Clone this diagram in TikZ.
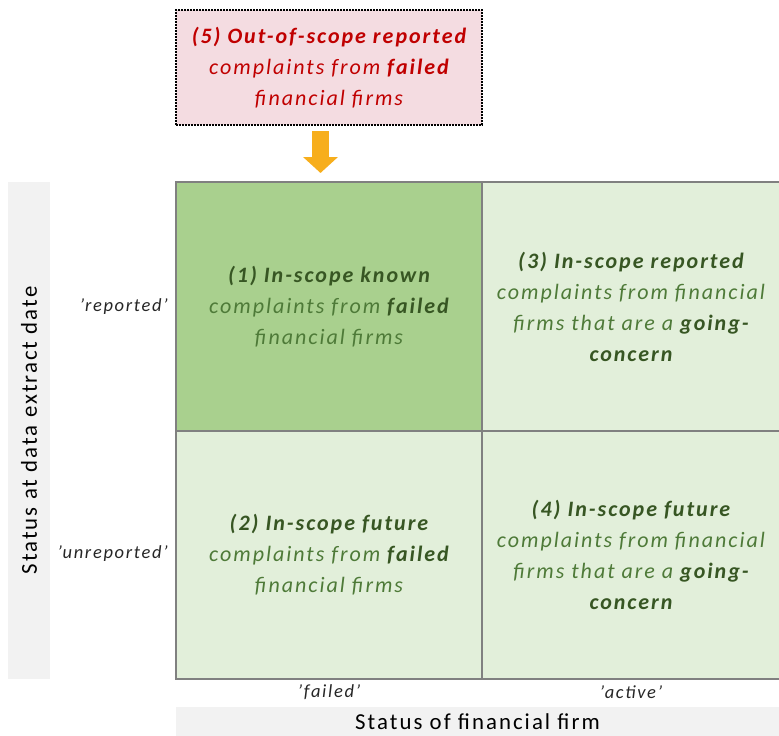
\documentclass[tikz,border=0pt]{standalone}
\usepackage{fontspec}
\setmainfont{Carlito}[LetterSpace=9]
\usepackage{tikz}
\usetikzlibrary{arrows.meta}

\definecolor{cellgreen}{HTML}{A9D08E}
\definecolor{celllight}{HTML}{E2EFDA}
\definecolor{gridgray}{HTML}{808080}
\definecolor{bargray}{HTML}{F2F2F2}
\definecolor{textdark}{HTML}{375623}
\definecolor{textmid}{HTML}{4E7A38}
\definecolor{oospink}{HTML}{F4DCE1}
\definecolor{oosred}{HTML}{C00000}
\definecolor{arroworange}{HTML}{F7AE1C}

\newcommand{\emcell}[1]{\textcolor{textdark}{\bfseries #1}}

\tikzset{
    cell/.style={draw=gridgray, line width=1.5pt, inner sep=0pt, align=center,
        text=textmid, font=\fontsize{22}{31}\selectfont\itshape},
    axisbar/.style={fill=bargray, inner sep=0pt, font=\fontsize{22.8}{26}\selectfont},
    tick/.style={inner sep=0pt, text=black!85, font=\fontsize{18.5}{22}\selectfont\itshape},
}

\begin{document}
\begin{tikzpicture}[x=1pt, y=-1pt]
    \useasboundingbox (0,0) rectangle (779,736);

    % out-of-scope box and arrow
    \node[draw=black, dash pattern=on 2pt off 1pt, line width=1.2pt, fill=oospink, text=oosred,
        minimum width=306pt, minimum height=115pt, inner sep=0pt, align=center,
        font=\fontsize{22}{31}\selectfont\itshape] (oos) at (329,67.5)
        {\textbf{(5) Out-of-scope reported}\\ complaints from \textbf{failed}\\ financial firms};
    \coordinate (arrtop) at (320.5,131);
    \coordinate (arrtip) at (320.5,173);
    \draw[arroworange, line width=17pt, -{Triangle[width=34pt, length=16pt]}] (arrtop) -- (arrtip);

    % the four cells
    \node[cell, fill=cellgreen, minimum width=306pt, minimum height=249pt] (known) at (329,306.5)
        {\emcell{(1) In-scope known}\\ complaints from \emcell{failed}\\ financial firms};
    \node[cell, fill=celllight, minimum width=298pt, minimum height=249pt] (repgc) at (631,306.5)
        {\emcell{(3) In-scope reported}\\ complaints from financial\\ firms that are a \emcell{going-}\\ \emcell{concern}};
    \node[cell, fill=celllight, minimum width=306pt, minimum height=248pt] (futfail) at (329,555)
        {\emcell{(2) In-scope future}\\ complaints from \emcell{failed}\\ financial firms};
    \node[cell, fill=celllight, minimum width=298pt, minimum height=248pt] (futgc) at (631,555)
        {\emcell{(4) In-scope future}\\ complaints from financial\\ firms that are a \emcell{going-}\\ \emcell{concern}};

    % axis labels
    \node[axisbar, rotate=90, minimum width=497pt, minimum height=42pt] (rowaxis) at (29,430.5)
        {Status at data extract date};
    \node[axisbar, minimum width=603pt, minimum height=29pt] (colaxis) at (477.5,721.5)
        {Status of financial firm};
    \node[tick, anchor=east] (reported) at (168,307) {'reported'};
    \node[tick, anchor=east] (unreported) at (168,554) {'unreported'};
    \node[tick] (failed) at (329,692) {'failed'};
    \node[tick] (active) at (631,692) {'active'};
\end{tikzpicture}
\end{document}
